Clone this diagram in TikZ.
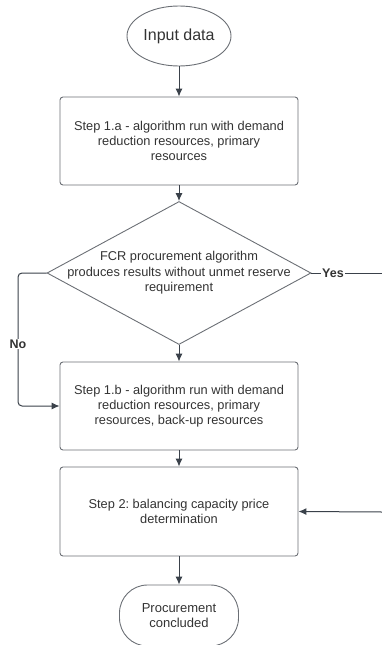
\documentclass[tikz,border=0pt]{standalone}
\usepackage{fontspec}
\setmainfont{Liberation Sans}
\usetikzlibrary{shapes.geometric,arrows.meta}
\definecolor{edge}{HTML}{3A414A}
\definecolor{frame}{HTML}{6B6F75}
\definecolor{ink}{HTML}{333333}
\frenchspacing
\begin{document}
\begin{tikzpicture}[x=1pt,y=1pt,>={Latex[length=8pt,width=7pt]},
  box/.style={draw=frame,line width=0.9pt,rounded corners=3pt,minimum width=238pt,minimum height=88pt,align=center,text=ink,font=\fontsize{12.8}{15}\selectfont},
  decision/.style={draw=frame,line width=0.9pt,diamond,inner sep=0pt,minimum width=264pt,minimum height=143pt},
  flow/.style={draw=edge,line width=1pt,->},
  tag/.style={fill=white,inner sep=1pt,text=ink,font=\fontsize{12.5}{15}\selectfont\bfseries}]
\useasboundingbox (0,0) rectangle (382,-645);
\def\cx{179}
% nodes
\node[draw=frame,line width=0.9pt,ellipse,minimum width=104pt,minimum height=60pt,inner sep=0pt,text=ink,font=\fontsize{16}{19}\selectfont] (input) at (\cx,-36) {Input data};
\node[box] (stepa) at (\cx,-141) {Step 1.a - algorithm run with demand\\reduction resources, primary\\resources};
\node[decision] (check) at (\cx,-273) {};
\node[align=center,text=ink,font=\fontsize{12.8}{15.5}\selectfont] (checktxt) at (check) {FCR procurement algorithm\\produces results without unmet reserve\\requirement};
\node[box] (stepb) at (\cx,-406) {Step 1.b - algorithm run with demand\\reduction resources, primary\\resources, back-up resources};
\node[box,minimum height=89pt] (price) at (\cx,-511.5) {Step 2: balancing capacity price\\determination};
\node[draw=frame,line width=0.9pt,rounded corners=28pt,minimum width=119pt,minimum height=61pt,align=center,text=ink,font=\fontsize{13}{15.7}\selectfont] (done) at (\cx,-615.5) {Procurement\\concluded};
\coordinate (nobend) at (18,-273);
\coordinate (yesend) at (382,-273);
\coordinate (rightin) at (382,-512);
% connectors
\draw[flow] (input) -- (stepa);
\draw[flow] (stepa) -- (check);
\draw[flow] (check) -- (stepb);
\draw[flow] (stepb) -- (price);
\draw[flow] (price) -- (done);
\draw[flow,rounded corners=4pt] (check.west) -- (nobend) -- (nobend |- stepb.west) -- (stepb.west);
\node[tag] at (18,-344) {No};
\draw[draw=edge,line width=1pt] (check.east) -- (yesend);
\node[tag] at (333,-273) {Yes};
\draw[flow] (rightin) -- (price.east);
\end{tikzpicture}
\end{document}
